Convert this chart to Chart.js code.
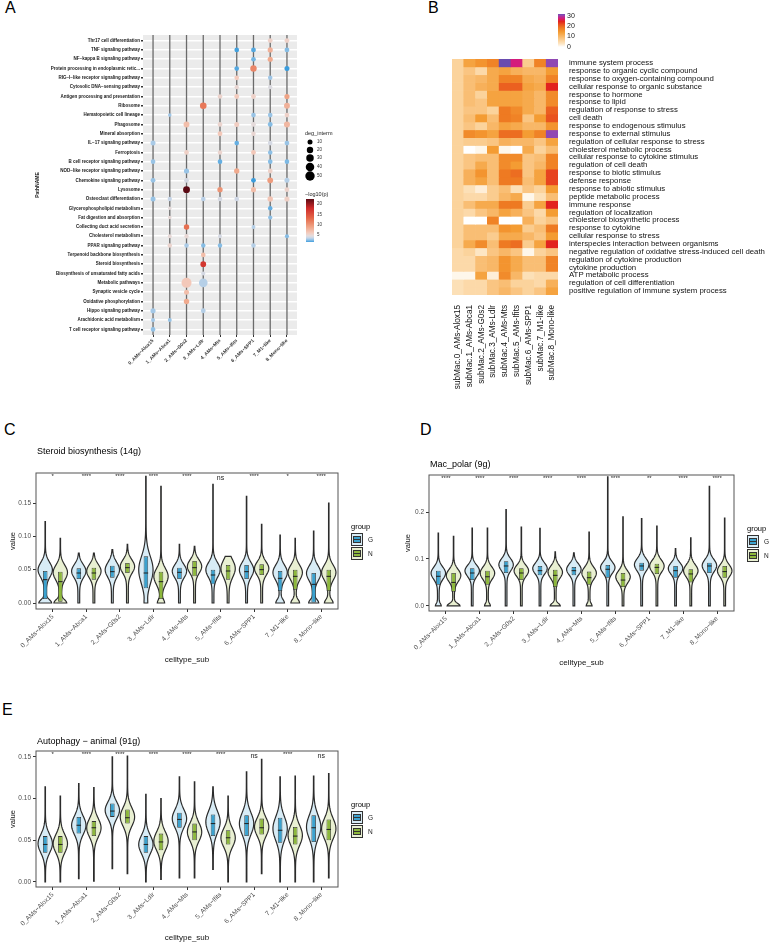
<!DOCTYPE html>
<html>
<head>
<meta charset="utf-8">
<script src="https://cdn.jsdelivr.net/npm/chart.js@4.4.1/dist/chart.umd.min.js"></script>
<style>
body { margin: 0; background: #fff; width: 773px; height: 945px; position: relative; overflow: hidden; font-family: "Liberation Sans", Arial, sans-serif; }
.tag { position: absolute; font-size: 16px; line-height: 16px; color: #000; }
canvas { position: absolute; }
</style>
</head>
<body>
<div class="tag" style="left:5px;top:0px">A</div>
<div class="tag" style="left:428px;top:0px">B</div>
<div class="tag" style="left:4px;top:422px">C</div>
<div class="tag" style="left:420px;top:422px">D</div>
<div class="tag" style="left:2px;top:702px">E</div>

<canvas id="dotChart" width="400" height="375" style="left:0;top:0"></canvas>
<canvas id="heatChart" width="373" height="400" style="left:400px;top:0"></canvas>
<canvas id="steroidChart" width="390" height="240" style="left:0;top:430px"></canvas>
<canvas id="polarChart" width="385" height="240" style="left:388px;top:430px"></canvas>
<canvas id="autoChart" width="390" height="240" style="left:0;top:705px"></canvas>

<script>
// ===== DATA =====
const cellTypes = ["0_AMs\u2212Alox15", "1_AMs\u2212Abca1", "2_AMs\u2212G0s2", "3_AMs\u2212Ldlr", "4_AMs\u2212Mts",
    "5_AMs\u2212Ifits", "6_AMs\u2212SPP1", "7_M1\u2212like", "8_Mono\u2212like"];

const pathNames = ["Thr17 cell differentiation", "TNF signaling pathway", "NF\u2212kappa B signaling pathway",
    "Protein processing in endoplasmic retic...", "RIG\u2212I\u2212like receptor signaling pathway",
    "Cytosolic DNA\u2212sensing pathway", "Antigen processing and presentation", "Ribosome",
    "Hematopoietic cell lineage", "Phagosome", "Mineral absorption", "IL\u221217 signaling pathway",
    "Ferroptosis", "B cell receptor signaling pathway", "NOD\u2212like receptor signaling pathway",
    "Chemokine signaling pathway", "Lysosome", "Osteoclast differentiation", "Glycerophospholipid metabolism",
    "Fat digestion and absorption", "Collecting duct acid secretion", "Cholesterol metabolism",
    "PPAR signaling pathway", "Terpenoid backbone biosynthesis", "Steroid biosynthesis",
    "Biosynthesis of unsaturated fatty acids", "Metabolic pathways", "Synaptic vesicle cycle",
    "Oxidative phosphorylation", "Hippo signaling pathway", "Arachidonic acid metabolism",
    "T cell receptor signaling pathway"];

// one list per pathway: [cell index, -log10(p), deg_interm]
const pathHits = [
    [[7, 5.5, 9], [8, 5.5, 9]],
    [[5, 1.6, 8], [6, 1.8, 9], [7, 8, 11], [8, 2.4, 9]],
    [[6, 2.2, 8], [7, 8.5, 11]],
    [[5, 1.8, 8], [6, 11, 20], [8, 1.4, 10]],
    [[5, 6, 8], [7, 2.8, 7]],
    [[5, 5, 6], [7, 4.2, 6]],
    [[4, 5.3, 8], [5, 6, 9], [6, 5.5, 9], [8, 9, 11]],
    [[3, 12, 22], [8, 8, 16]],
    [[1, 2.8, 2], [6, 2.7, 8], [7, 2.7, 8], [8, 5.5, 9]],
    [[2, 7, 16], [4, 5.2, 8], [5, 5.8, 10], [6, 4.6, 9], [7, 2.4, 9], [8, 7.5, 17]],
    [[4, 6.2, 9], [6, 5, 7]],
    [[0, 3.0, 10], [5, 2.0, 8], [7, 4.0, 8], [8, 2.7, 9]],
    [[2, 5.6, 8], [4, 5.2, 7], [6, 6.2, 9], [7, 2.5, 7]],
    [[0, 2.7, 8], [4, 2.0, 8], [7, 2.4, 8], [8, 2.3, 8]],
    [[2, 2.7, 11], [5, 8.5, 12], [7, 5.5, 9]],
    [[0, 2.7, 9], [2, 4.0, 9], [6, 1.5, 9], [7, 9.5, 15], [8, 3.2, 10]],
    [[2, 23, 24], [4, 10, 12], [6, 7, 11], [8, 5.3, 9]],
    [[0, 2.7, 10], [1, 3.5, 6], [3, 3.3, 8], [4, 4.0, 8], [5, 3.8, 8], [7, 6.5, 13], [8, 5.6, 11]],
    [[1, 4.6, 2], [7, 2.0, 7]],
    [[1, 4.8, 2], [7, 2.5, 6]],
    [[2, 12.5, 13], [6, 3.2, 4]],
    [[1, 4.8, 4], [2, 4.9, 6], [4, 4.0, 4], [8, 2.4, 5]],
    [[1, 5.2, 7], [2, 3.0, 7], [3, 2.4, 7], [4, 2.4, 7], [6, 3.2, 7]],
    [[3, 7, 8]],
    [[3, 17, 15]],
    [[3, 4.0, 5]],
    [[2, 6.2, 58], [3, 3.2, 42]],
    [[2, 7, 10]],
    [[2, 8.5, 13]],
    [[0, 2.9, 11], [3, 3.2, 9]],
    [[0, 2.9, 5], [1, 2.7, 4]],
    [[0, 2.6, 8]]
];

const heatCols = ["subMac.0_AMs-Alox15", "subMac.1_AMs-Abca1", "subMac.2_AMs-G0s2", "subMac.3_AMs-Ldlr",
    "subMac.4_AMs-Mts", "subMac.5_AMs-Ifits", "subMac.6_AMs-SPP1", "subMac.7_M1-like", "subMac.8_Mono-like"];

const heatRows = ["immune system process", "response to organic cyclic compound",
    "response to oxygen-containing compound", "cellular response to organic substance",
    "response to hormone", "response to lipid", "regulation of response to stress", "cell death",
    "response to endogenous stimulus", "response to external stimulus",
    "regulation of cellular response to stress", "cholesterol metabolic process",
    "cellular response to cytokine stimulus", "regulation of cell death", "response to biotic stimulus",
    "defense response", "response to abiotic stimulus", "peptide metabolic process", "immune response",
    "regulation of localization", "cholesterol biosynthetic process", "response to cytokine",
    "cellular response to stress", "interspecies interaction between organisms",
    "negative regulation of oxidative stress-induced cell death", "regulation of cytokine production",
    "cytokine production", "ATP metabolic process", "regulation of cell differentiation",
    "positive regulation of immune system process"];

const heatVals = [
    [6, 13, 15, 17, 31, 27, 7, 17, 30],
    [6, 8, 5, 12, 13, 11, 10, 10, 14],
    [6, 9, 10, 12, 17, 17, 12, 11, 17],
    [6, 9, 11, 12, 20, 20, 13, 12, 24],
    [6, 9, 6, 13, 13, 13, 12, 10, 16],
    [6, 9, 8, 13, 13, 13, 12, 10, 16],
    [6, 8, 8, 6, 18, 16, 12, 10, 20],
    [6, 9, 14, 9, 18, 17, 8, 14, 21],
    [6, 8, 6, 10, 13, 12, 10, 10, 15],
    [6, 16, 15, 13, 19, 19, 14, 17, 30],
    [6, 7, 7, 8, 11, 10, 10, 8, 13],
    [6, 0, 1, 14, 1, 0, 12, 6, 9],
    [6, 8, 9, 9, 16, 16, 8, 9, 17],
    [6, 8, 12, 9, 16, 14, 8, 10, 17],
    [6, 11, 15, 9, 18, 19, 8, 13, 22],
    [6, 11, 13, 9, 18, 18, 9, 13, 22],
    [6, 4, 2, 7, 9, 4, 8, 6, 14],
    [6, 5, 5, 7, 10, 12, 1, 4, 9],
    [6, 9, 12, 12, 18, 18, 7, 13, 24],
    [6, 5, 8, 10, 13, 11, 8, 5, 14],
    [6, 0, 0, 17, 0, 0, 11, 6, 8],
    [6, 9, 9, 9, 15, 14, 7, 9, 18],
    [6, 9, 9, 7, 12, 12, 10, 8, 14],
    [6, 12, 16, 9, 18, 19, 7, 13, 24],
    [5, 6, 3, 8, 10, 8, 1, 6, 8],
    [5, 5, 9, 10, 15, 12, 9, 9, 17],
    [5, 5, 9, 10, 15, 12, 9, 9, 17],
    [1, 1, 13, 2, 16, 10, 4, 5, 5],
    [4, 5, 5, 8, 9, 6, 6, 5, 11],
    [4, 5, 5, 8, 10, 8, 6, 8, 13]
];

// violins: [low, q1, median, q3, high, peak, spread, bottom flare]
const steroidG = [
    [0, .006, .035, .048, .122, .05, .011, .8], [0, .036, .045, .052, .075, .048, .01, 0],
    [0, .038, .047, .056, .08, .05, .011, 0], [0, .022, .045, .07, .19, .05, .02, .1],
    [0, .036, .046, .053, .088, .048, .01, 0], [0, .028, .042, .05, .178, .05, .011, 0],
    [0, .036, .047, .057, .16, .05, .011, 0], [0, .018, .037, .048, .102, .046, .011, .5],
    [0, 0, .028, .045, .108, .045, .011, .6]];
const steroidN = [
    [0, .002, .032, .047, .097, .046, .011, .8], [0, .035, .045, .053, .075, .048, .01, 0],
    [0, .045, .053, .06, .088, .055, .01, 0], [0, .006, .032, .047, .175, .04, .012, .4],
    [0, .04, .053, .063, .085, .055, .01, 0], [0, .035, .048, .057, .07, .052, .013, 0],
    [0, .042, .05, .058, .118, .052, .01, 0], [0, .02, .04, .05, .097, .046, .011, .5],
    [0, .018, .04, .05, .15, .046, .011, .5]];
const steroidSig = ["*", "****", "****", "****", "****", "ns", "****", "*", "****"];

const polarG = [
    [0, .045, .063, .075, .155, .07, .013, .3], [0, .055, .07, .08, .166, .075, .012, 0],
    [0, .07, .085, .095, .205, .088, .013, 0], [0, .065, .075, .085, .165, .08, .012, 0],
    [0, .065, .075, .083, .113, .078, .012, 0], [0, .06, .078, .087, .275, .082, .012, 0],
    [0, .075, .085, .092, .186, .088, .013, 0], [0, .06, .075, .085, .122, .08, .012, 0],
    [0, .07, .085, .092, .255, .086, .013, 0]];
const polarN = [
    [0, .03, .05, .07, .148, .065, .013, .8], [0, .045, .062, .075, .166, .07, .013, .3],
    [0, .055, .07, .08, .168, .075, .012, 0], [0, .04, .065, .077, .115, .072, .013, .6],
    [0, .045, .06, .073, .157, .07, .013, .3], [0, .04, .055, .07, .19, .062, .013, 0],
    [0, .068, .082, .09, .17, .085, .013, 0], [0, .05, .068, .078, .145, .075, .013, 0],
    [0, .06, .073, .085, .187, .075, .013, 0]];
const polarSig = ["****", "****", "****", "****", "****", "****", "**", "****", "****"];

const autoG = [
    [0, .035, .045, .055, .114, .046, .011, 0], [.004, .058, .068, .078, .118, .068, .011, 0],
    [.016, .078, .085, .094, .15, .086, .01, 0], [0, .035, .045, .055, .105, .045, .011, 0],
    [.005, .065, .075, .083, .126, .076, .011, 0], [.015, .055, .07, .081, .114, .072, .013, 0],
    [0, .055, .07, .08, .132, .07, .013, 0], [0, .047, .062, .077, .126, .064, .014, 0],
    [0, .048, .065, .08, .127, .066, .014, 0]];
const autoN = [
    [0, .035, .045, .055, .103, .046, .011, 0], [.001, .055, .065, .073, .113, .065, .011, 0],
    [.01, .07, .077, .087, .151, .078, .011, 0], [.003, .038, .048, .058, .1, .049, .011, 0],
    [.005, .05, .06, .07, .12, .06, .011, 0], [0, .045, .053, .062, .103, .053, .011, 0],
    [.01, .057, .065, .076, .147, .066, .011, 0], [0, .045, .055, .066, .127, .056, .012, 0],
    [.005, .05, .063, .075, .13, .064, .012, 0]];
const autoSig = ["*", "****", "****", "****", "****", "****", "ns", "****", "ns"];

// ===== COLOURS =====
const pStops = [[1.5, "#3b9ddd"], [2.5, "#8ec0e6"], [3.5, "#c6d5e8"], [4.5, "#e4dcdd"], [6, "#f3cbbd"],
    [9, "#efa385"], [13, "#e5694a"], [18, "#cf2a2a"], [22.5, "#5b0a14"]];
const heatStops = [[0, "#ffffff"], [3, "#fde6c4"], [6, "#fbd39c"], [10, "#f8b767"], [14, "#f49c33"],
    [18, "#ee7a22"], [21, "#e9531f"], [24, "#e2231f"], [27, "#d41c7c"], [30, "#9048b3"], [31, "#6a4caf"]];
const groupFill = ["#3ba2cf", "#8db83c"];
const violinFill = ["#d8ecf6", "#e9f0d2"];

function hexRgb(h) {
    return [parseInt(h.slice(1, 3), 16), parseInt(h.slice(3, 5), 16), parseInt(h.slice(5, 7), 16)];
}
function rampColor(stops, v) {
    if (v <= stops[0][0]) return stops[0][1];
    for (let i = 1; i < stops.length; i++) {
        if (v <= stops[i][0]) {
            const t = (v - stops[i - 1][0]) / (stops[i][0] - stops[i - 1][0]);
            const a = hexRgb(stops[i - 1][1]), b = hexRgb(stops[i][1]);
            return "rgb(" + a.map((c, k) => Math.round(c + (b[k] - c) * t)).join(",") + ")";
        }
    }
    return stops[stops.length - 1][1];
}
const degRadius = n => Math.sqrt(2.29 + 0.396 * n);

Chart.defaults.font.family = '"Liberation Sans", Arial, sans-serif';
Chart.defaults.animation = false;
Chart.defaults.events = [];

// ===== A: DOT PLOT =====
const dotPoints = [];
pathHits.forEach((hits, r) => hits.forEach(h => dotPoints.push({ x: h[0], y: r, p: h[1], n: h[2] })));

const dotPlugin = {
    id: "dotPanel",
    beforeDraw(chart) {
        const { ctx, chartArea: a } = chart;
        ctx.save();
        ctx.fillStyle = "#ebebeb";
        ctx.fillRect(a.left, a.top, a.right - a.left, a.bottom - a.top);
        ctx.restore();
    },
    beforeDatasetsDraw(chart) {
        const { ctx, chartArea: a, scales: { x } } = chart;
        ctx.save();
        ctx.strokeStyle = "#6b6b6b";
        ctx.lineWidth = 1.3;
        cellTypes.forEach((_, i) => {
            const px = x.getPixelForValue(i);
            ctx.beginPath(); ctx.moveTo(px, a.top); ctx.lineTo(px, a.bottom); ctx.stroke();
        });
        ctx.restore();
    },
    afterDraw(chart) {
        const ctx = chart.ctx;
        ctx.save();
        ctx.fillStyle = "#222";
        ctx.textBaseline = "middle";
        ctx.font = '5.5px "Liberation Sans", Arial';
        ctx.fillText("deg_interm", 305, 133);
        [10, 20, 30, 40, 50].forEach((n, i) => {
            const cy = [142, 150, 158, 167, 176][i];
            ctx.fillStyle = "#000";
            ctx.beginPath(); ctx.arc(310, cy, degRadius(n), 0, Math.PI * 2); ctx.fill();
            ctx.fillStyle = "#333";
            ctx.font = '4.5px "Liberation Sans", Arial';
            ctx.fillText(String(n), 317, cy);
        });
        ctx.font = '5.5px "Liberation Sans", Arial';
        ctx.fillStyle = "#222";
        ctx.fillText("\u2212log10(p)", 305, 194);
        for (let yy = 199; yy < 242; yy++) {
            const v = 20 - (yy + 0.5 - 204) / 2.06;
            ctx.fillStyle = rampColor(pStops, v);
            ctx.fillRect(306, yy, 8, 1);
        }
        ctx.fillStyle = "#333";
        ctx.font = '4.5px "Liberation Sans", Arial';
        [20, 15, 10, 5].forEach(v => ctx.fillText(String(v), 317, 204 + (20 - v) * 2.06));
        ctx.restore();
    }
};

new Chart(document.getElementById("dotChart"), {
    type: "scatter",
    data: {
        datasets: [{
            data: dotPoints,
            pointRadius: c => degRadius(c.raw.n),
            pointBackgroundColor: c => rampColor(pStops, c.raw.p),
            pointBorderWidth: 0
        }]
    },
    options: {
        responsive: false,
        layout: { padding: { top: 35, right: 103, left: 0, bottom: 0 } },
        plugins: { legend: { display: false }, tooltip: { enabled: false } },
        scales: {
            x: {
                type: "linear", min: -0.6, max: 8.6,
                afterBuildTicks: s => { s.ticks = cellTypes.map((_, i) => ({ value: i })); },
                afterFit: s => { s.height = 40; },
                ticks: { callback: v => cellTypes[v], autoSkip: false, minRotation: 45, maxRotation: 45,
                    font: { size: 4.8, weight: "bold" }, color: "#333", padding: 1 },
                grid: { drawOnChartArea: false, tickLength: 2, tickColor: "#333" },
                border: { display: false }
            },
            y: {
                type: "linear", min: -0.6, max: 31.6, reverse: true,
                afterBuildTicks: s => { s.ticks = pathNames.map((_, i) => ({ value: i })); },
                afterFit: s => { s.width = 143; },
                ticks: { callback: v => pathNames[v], autoSkip: false, font: { size: 4.5, weight: "bold" },
                    color: "#1a1a1a", padding: 1 },
                grid: { color: "#ffffff", lineWidth: 1.5, tickLength: 2, tickColor: "#333" },
                border: { display: false },
                title: { display: true, text: "PathNAME", font: { size: 5, weight: "bold" }, color: "#222",
                    padding: { top: 35, bottom: 0 } }
            }
        }
    },
    plugins: [dotPlugin]
});

// ===== B: HEATMAP =====
const heatPlugin = {
    id: "heatLegend",
    afterDraw(chart) {
        const ctx = chart.ctx;
        ctx.save();
        for (let yy = 14; yy < 47; yy++) {
            ctx.fillStyle = rampColor(heatStops, (47 - yy - 0.5) / 33 * 31);
            ctx.fillRect(158, yy, 7, 1);
        }
        ctx.fillStyle = "#222";
        ctx.font = '7px "Liberation Sans", Arial';
        ctx.textBaseline = "middle";
        [[30, 16], [20, 26], [10, 36], [0, 47]].forEach(([v, yy]) => ctx.fillText(String(v), 167, yy));
        ctx.restore();
    }
};

new Chart(document.getElementById("heatChart"), {
    type: "bar",
    data: {
        labels: heatCols,
        datasets: heatRows.map((name, r) => ({
            label: name,
            data: heatCols.map(() => 1),
            backgroundColor: heatVals[r].map(v => rampColor(heatStops, v)),
            borderWidth: 0,
            barPercentage: 1,
            categoryPercentage: 1
        }))
    },
    options: {
        responsive: false,
        layout: { padding: { top: 59, left: 52, right: 0, bottom: 0 } },
        plugins: { legend: { display: false }, tooltip: { enabled: false } },
        scales: {
            x: {
                stacked: true, offset: true,
                afterFit: s => { s.height = 105; },
                ticks: { minRotation: 90, maxRotation: 90, autoSkip: false, font: { size: 8.2 }, color: "#111", padding: 2 },
                grid: { display: false }, border: { display: false }
            },
            y: {
                stacked: true, min: 0, max: 30, reverse: true, position: "right",
                afterBuildTicks: s => { s.ticks = heatRows.map((_, i) => ({ value: i + 0.5 })); },
                afterFit: s => { s.width = 215; },
                ticks: { callback: v => heatRows[Math.floor(v)], autoSkip: false, font: { size: 7.8 }, color: "#111", padding: 3 },
                grid: { display: false }, border: { display: false }
            }
        }
    },
    plugins: [heatPlugin]
});

// ===== C / D / E: VIOLINS =====
function drawViolin(ctx, cx, half, v, y, neck, fill) {
    const [lo, , , , hi, peak, sd, flare] = v;
    const pts = [];
    let dmax = 0;
    for (let k = 0; k <= 100; k++) {
        const val = lo + (hi - lo) * k / 100;
        const g = Math.exp(-0.5 * ((val - peak) / sd) ** 2);
        const f = flare * Math.exp(-0.5 * ((val - lo) / 0.005) ** 2);
        const t = 0.03 + (neck - 0.03) / (1 + Math.exp((val - (peak - sd)) / (sd * 0.5)));
        const d = g + f + t;
        pts.push([val, d]);
        dmax = Math.max(dmax, d);
    }
    ctx.beginPath();
    pts.forEach(([val, d], k) => {
        const px = cx + half * d / dmax, py = y.getPixelForValue(val);
        k ? ctx.lineTo(px, py) : ctx.moveTo(px, py);
    });
    for (let k = pts.length - 1; k >= 0; k--) {
        ctx.lineTo(cx - half * pts[k][1] / dmax, y.getPixelForValue(pts[k][0]));
    }
    ctx.closePath();
    ctx.fillStyle = fill;
    ctx.fill();
    ctx.strokeStyle = "#2b2b2b";
    ctx.lineWidth = 1.2;
    ctx.stroke();
}

function violinChart(id, o) {
    const sets = [o.g, o.n];
    const plug = {
        id: "violin_" + id,
        beforeDatasetsDraw(chart) {
            const { ctx, chartArea: a, scales: { y } } = chart;
            ctx.save();
            ctx.beginPath(); ctx.rect(a.left, a.top, a.right - a.left, a.bottom - a.top); ctx.clip();
            sets.forEach((set, di) => {
                const meta = chart.getDatasetMeta(di);
                set.forEach((v, i) => {
                    const el = meta.data[i];
                    drawViolin(ctx, el.x, el.width / 0.3 / 2 * 0.95, v, y, o.neck, violinFill[di]);
                });
            });
            ctx.restore();
        },
        afterDatasetsDraw(chart) {
            const { ctx, chartArea: a, scales: { x, y } } = chart;
            ctx.save();
            // medians
            ctx.strokeStyle = "#1e1e1e";
            ctx.lineWidth = 1;
            sets.forEach((set, di) => {
                const meta = chart.getDatasetMeta(di);
                set.forEach((v, i) => {
                    const el = meta.data[i], py = y.getPixelForValue(v[2]);
                    ctx.beginPath(); ctx.moveTo(el.x - el.width / 2, py); ctx.lineTo(el.x + el.width / 2, py); ctx.stroke();
                });
            });
            // panel border
            ctx.strokeStyle = "#555";
            ctx.lineWidth = 1;
            ctx.strokeRect(a.left, a.top, a.right - a.left, a.bottom - a.top);
            // significance labels
            ctx.fillStyle = "#222";
            ctx.textAlign = "center";
            ctx.textBaseline = "middle";
            o.sig.forEach((s, i) => {
                const px = x.getPixelForValue(i);
                if (s === "ns") {
                    ctx.font = '7px "Liberation Sans", Arial';
                    ctx.fillText(s, px, a.top + 5);
                } else {
                    ctx.font = '6px "Liberation Sans", Arial';
                    ctx.fillText(s, px, a.top + 3.5);
                }
            });
            // title
            ctx.textAlign = "left";
            ctx.fillStyle = "#000";
            ctx.font = '9px "Liberation Sans", Arial';
            ctx.fillText(o.title, a.left + 1, o.titleY);
            // legend
            const L = o.legend;
            ctx.font = '7.5px "Liberation Sans", Arial';
            ctx.fillText("group", L.x, L.y);
            ["G", "N"].forEach((g, k) => {
                const ky = L.y + 6 + k * 14;
                ctx.fillStyle = violinFill[k];
                ctx.fillRect(L.x, ky, 12, 13);
                ctx.fillStyle = groupFill[k];
                ctx.fillRect(L.x + 2, ky + 3, 8, 7);
                ctx.strokeStyle = "#333";
                ctx.lineWidth = 1;
                ctx.strokeRect(L.x + 0.5, ky + 0.5, 11, 12);
                ctx.strokeRect(L.x + 2.5, ky + 3.5, 7, 6);
                ctx.beginPath(); ctx.moveTo(L.x + 2, ky + 6.5); ctx.lineTo(L.x + 10, ky + 6.5); ctx.stroke();
                ctx.fillStyle = "#222";
                ctx.font = '6.5px "Liberation Sans", Arial';
                ctx.fillText(g, L.x + 17, ky + 7);
            });
            ctx.restore();
        }
    };

    return new Chart(document.getElementById(id), {
        type: "bar",
        data: {
            labels: cellTypes,
            datasets: sets.map((set, di) => ({
                label: ["G", "N"][di],
                data: set.map(v => [v[1], v[3]]),
                backgroundColor: groupFill[di],
                borderColor: "#333",
                borderWidth: 0.8,
                borderSkipped: false,
                barPercentage: 0.3,
                categoryPercentage: 0.9
            }))
        },
        options: {
            responsive: false,
            layout: { padding: { top: o.top, right: o.right, left: 0, bottom: 0 } },
            plugins: { legend: { display: false }, tooltip: { enabled: false } },
            scales: {
                x: {
                    offset: true,
                    afterFit: s => { s.height = o.xH; },
                    ticks: { autoSkip: false, minRotation: 45, maxRotation: 45, font: { size: 6.5 }, color: "#4d4d4d", padding: 1 },
                    grid: { drawOnChartArea: false, offset: false, tickLength: 3, tickColor: "#333" },
                    border: { display: false },
                    title: { display: true, text: "celltype_sub", font: { size: 8 }, color: "#111",
                        padding: { top: 0, bottom: o.xTitlePad } }
                },
                y: {
                    min: o.yMin, max: o.yMax,
                    afterBuildTicks: s => { s.ticks = o.ticks.map(v => ({ value: v })); },
                    afterFit: s => { s.width = o.yW; },
                    ticks: { callback: v => v.toFixed(o.dec), font: { size: 6.5 }, color: "#4d4d4d", padding: 2 },
                    grid: { drawOnChartArea: false, tickLength: 3, tickColor: "#333" },
                    border: { display: false },
                    title: { display: true, text: "value", font: { size: 7.5 }, color: "#111",
                        padding: { top: o.yTitlePad, bottom: 0 } }
                }
            }
        },
        plugins: [plug]
    });
}

violinChart("steroidChart", {
    g: steroidG, n: steroidN, sig: steroidSig, title: "Steroid biosynthesis (14g)", titleY: 22,
    yMin: -0.009, yMax: 0.195, ticks: [0, 0.05, 0.1, 0.15], dec: 2, neck: 0.13,
    top: 43, right: 52, yW: 36, xH: 61, yTitlePad: 8.5, xTitlePad: 5, legend: { x: 351, y: 97 }
});
violinChart("polarChart", {
    g: polarG, n: polarN, sig: polarSig, title: "Mac_polar (9g)", titleY: 35,
    yMin: -0.011, yMax: 0.279, ticks: [0, 0.1, 0.2], dec: 1, neck: 0.12,
    top: 45, right: 39, yW: 41, xH: 59, yTitlePad: 15.5, xTitlePad: 2, legend: { x: 359, y: 99 }
});
violinChart("autoChart", {
    g: autoG, n: autoN, sig: autoSig, title: "Autophagy \u2212 animal (91g)", titleY: 37,
    yMin: -0.006, yMax: 0.157, ticks: [0, 0.05, 0.1, 0.15], dec: 2, neck: 0.04,
    top: 46, right: 52, yW: 36, xH: 58, yTitlePad: 8.5, xTitlePad: 2, legend: { x: 351, y: 100 }
});
</script>
</body>
</html>
